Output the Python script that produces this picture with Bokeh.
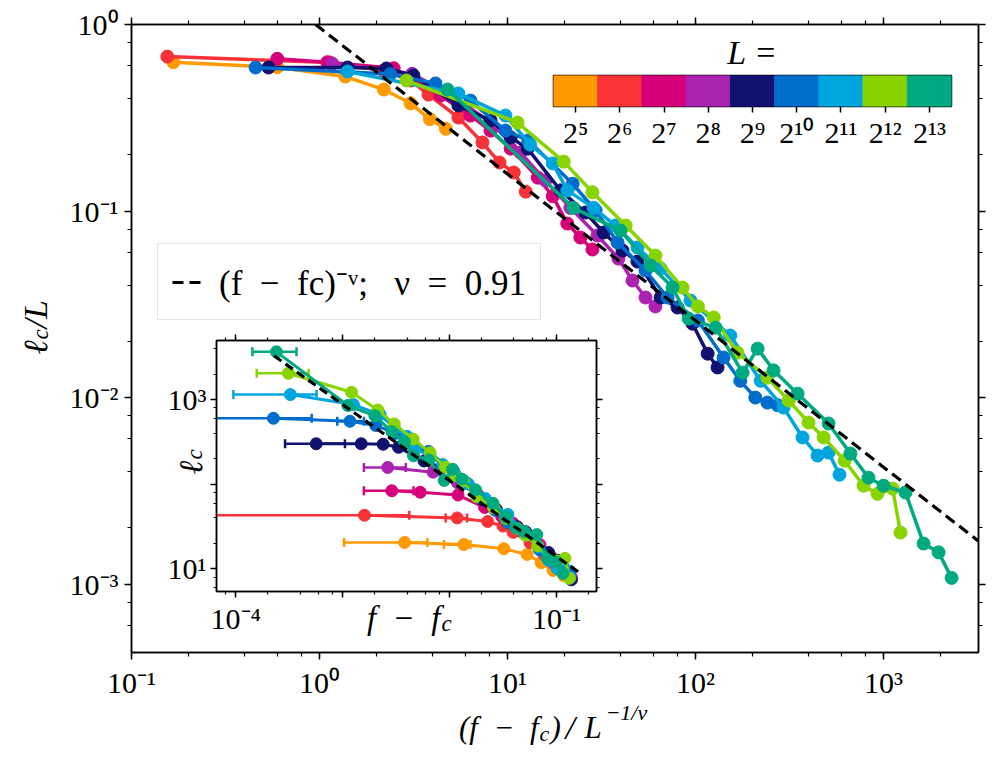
import math
from bokeh.plotting import figure
from bokeh.models import (Range1d, LogAxis, LogTicker, CustomJSTickFormatter, Legend, LegendItem,
                          FixedTicker)
from bokeh.core.properties import value
from bokeh.layouts import column
from bokeh.embed import file_html
from bokeh.resources import INLINE

SERIF = "Liberation Serif"
ENSP = "\u2002"
NBSP = "\u00a0"

# ---------------- data ----------------
L_exponents = [5, 6, 7, 8, 9, 10, 11, 12, 13]
L_labels = ["2⁵", "2⁶", "2⁷", "2⁸", "2⁹", "2¹⁰", "2¹¹", "2¹²", "2¹³"]
colors = ["#ff9a00", "#f83236", "#d6007a", "#ac22b0", "#111170",
          "#006ccc", "#00a5de", "#88d400", "#00aa80"]

# main panel: (f - f_c) / L^(-1/nu)  vs  l_c / L
x_main_L32 = [0.167, 0.596, 1.37, 2.20, 3.05, 3.86, 4.70]
y_main_L32 = [0.628, 0.590, 0.526, 0.448, 0.378, 0.311, 0.276]
x_main_L64 = [0.155, 1.14, 2.19, 3.05, 3.80, 5.48, 7.36, 9.06, 10.8, 12.5]
y_main_L64 = [0.673, 0.625, 0.567, 0.501, 0.421, 0.317, 0.233, 0.182, 0.161, 0.127]
x_main_L128 = [0.596, 1.10, 2.48, 4.40, 6.35, 8.12, 10.4, 14.5, 17.4, 20.8, 24.4, 28.3]
y_main_L128 = [0.655, 0.628, 0.583, 0.416, 0.325, 0.270, 0.216, 0.151, 0.120, 0.0857, 0.0721, 0.0622]
x_main_L256 = [1.17, 3.11, 5.28, 8.12, 11.7, 15.9, 21.6, 30.1, 38.9, 46.2, 54.2, 61.2]
y_main_L256 = [0.616, 0.544, 0.406, 0.298, 0.206, 0.146, 0.104, 0.0739, 0.0556, 0.0424, 0.0344, 0.0308]
x_main_L512 = [0.536, 1.41, 2.27, 3.16, 5.48, 8.12, 10.4, 12.8, 19.1, 26.0, 32.4, 40.9, 49.1, 65.2,
               80.2, 96.4, 116, 131]
y_main_L512 = [0.588, 0.588, 0.581, 0.533, 0.368, 0.306, 0.248, 0.216, 0.129, 0.0982, 0.0767, 0.0614,
               0.0536, 0.0344, 0.0304, 0.0249, 0.0172, 0.0145]
x_main_L1024 = [0.457, 2.38, 4.14, 6.35, 9.75, 12.9, 22.2, 29.4, 38.5, 54.2, 71.0, 103, 141, 173,
                208, 241, 273]
y_main_L1024 = [0.588, 0.542, 0.483, 0.391, 0.270, 0.239, 0.140, 0.101, 0.0678, 0.0480, 0.0344,
                0.0259, 0.0164, 0.0123, 0.0100, 0.0094, 0.0091]
x_main_L2048 = [1.41, 5.48, 9.75, 13.2, 17.4, 20.8, 28.7, 37.5, 49.1, 65.2, 94.0, 153, 222, 294,
                371, 446, 510, 583]
y_main_L2048 = [0.560, 0.427, 0.325, 0.227, 0.180, 0.129, 0.104, 0.0836, 0.0637, 0.0492, 0.0331,
                0.0215, 0.0123, 0.00884, 0.00611, 0.00489, 0.00507, 0.00386]
x_main_L4096 = [2.90, 11.3, 19.9, 28.3, 42.5, 61.2, 85.3, 103, 125, 167, 241, 313, 399, 480, 621,
                783, 929, 1117, 1231]
y_main_L4096 = [0.501, 0.298, 0.184, 0.126, 0.0836, 0.0577, 0.0389, 0.0308, 0.0269, 0.0174, 0.0128,
                0.00964, 0.00735, 0.00611, 0.00459, 0.00337, 0.00305, 0.00325, 0.00189]
x_main_L8192 = [4.80, 22.4, 39.9, 57.7, 75.5, 91.8, 128, 178, 214, 260, 349, 510, 667, 832, 1000,
                1309, 1633, 1963, 2301]
y_main_L8192 = [0.448, 0.104, 0.0786, 0.0510, 0.0389, 0.0265, 0.0237, 0.0136, 0.0183, 0.0140,
                0.0105, 0.00726, 0.00501, 0.00372, 0.00337, 0.00310, 0.00165, 0.00148, 0.00108]

fit_main_x = [0.953, 3200]
fit_main_y = [1.0, 0.0017]

# inset: f - f_c  vs  l_c
x_in_L32 = [0.0038, 0.0136, 0.0322, 0.0532, 0.0719, 0.0931, 0.117]
y_in_L32 = [20.5, 19.4, 17.3, 14.8, 11.8, 9.57, 8.36]
x_in_L64 = [0.0016, 0.0118, 0.0227, 0.0316, 0.0393, 0.0567, 0.0762, 0.0938, 0.112, 0.129]
y_in_L64 = [43, 40, 36.3, 32, 27, 20.3, 14.9, 11.6, 10.3, 8.1]
x_in_L128 = [0.00288, 0.00532, 0.0120, 0.0213, 0.0307, 0.0392, 0.0503, 0.0701, 0.0841, 0.1005,
             0.118, 0.137]
y_in_L128 = [83.8, 80.4, 74.6, 53.2, 41.6, 34.6, 27.6, 19.3, 15.4, 11.0, 9.23, 7.96]
x_in_L256 = [0.00264, 0.00702, 0.0119, 0.0183, 0.0264, 0.0359, 0.0488, 0.0679, 0.0878, 0.104,
             0.122, 0.138]
y_in_L256 = [158, 139, 104, 76.3, 52.7, 37.4, 26.6, 18.9, 14.2, 10.9, 8.81, 7.88]
x_in_L512 = [0.000565, 0.00149, 0.00239, 0.00333, 0.00577, 0.00856, 0.0110, 0.0135, 0.0201, 0.0274,
             0.0341, 0.0431, 0.0517, 0.0687, 0.0845, 0.1016, 0.122, 0.138]
y_in_L512 = [301, 301, 297, 273, 188, 157, 127, 111, 66.0, 50.3, 39.3, 31.4, 27.4, 17.6, 15.6, 12.7,
             8.81, 7.42]
x_in_L1024 = [0.000225, 0.00117, 0.00204, 0.00313, 0.00480, 0.00635, 0.0109, 0.0145, 0.0189,
              0.0267, 0.0349, 0.0507, 0.0694, 0.0851, 0.102, 0.119, 0.134]
y_in_L1024 = [602, 555, 495, 400, 276, 245, 143, 103, 69.4, 49.2, 35.2, 26.5, 16.8, 12.6, 10.2,
              9.63, 9.32]
x_in_L2048 = [0.000324, 0.00126, 0.00224, 0.00303, 0.00400, 0.00478, 0.00659, 0.00861, 0.0113,
              0.0150, 0.0216, 0.0351, 0.0510, 0.0675, 0.0852, 0.102, 0.117, 0.134]
y_in_L2048 = [1147, 874, 666, 465, 369, 264, 213, 171, 130, 101, 67.8, 44.0, 25.2, 18.1, 12.5,
              10.0, 10.4, 7.9]
x_in_L4096 = [0.000311, 0.00121, 0.00213, 0.00304, 0.00456, 0.00657, 0.00915, 0.0110, 0.0134,
              0.0179, 0.0259, 0.0336, 0.0428, 0.0515, 0.0666, 0.0840, 0.0997, 0.120, 0.132]
y_in_L4096 = [2052, 1221, 754, 516, 342, 236, 159, 126, 110, 71.3, 52.4, 39.5, 30.1, 25.0, 18.8,
              13.8, 12.5, 13.3, 7.74]
x_in_L8192 = [0.000240, 0.00112, 0.00200, 0.00289, 0.00378, 0.00460, 0.00641, 0.00891, 0.0107,
              0.0130, 0.0175, 0.0255, 0.0334, 0.0417, 0.0501, 0.0655, 0.0818, 0.0983, 0.115]
y_in_L8192 = [3670, 852, 644, 418, 319, 217, 194, 111, 150, 115, 86.0, 59.5, 41.0, 30.5, 27.6,
              25.4, 13.5, 12.1, 8.85]

# horizontal error bars of the inset (value, lower, upper)
err_y_L32, err_lo_L32, err_hi_L32 = [20.5, 19.4], [0.00103, 0.00885], [0.0062, 0.0157]
err_y_L64, err_lo_L64, err_hi_L64 = [43, 40], [4.0e-5, 0.0092], [0.0042, 0.0146]
err_y_L128, err_lo_L128, err_hi_L128 = [83.8], [0.00158], [0.0046]
err_y_L256, err_lo_L256, err_hi_L256 = [158], [0.00158], [0.0039]
err_y_L512, err_lo_L512, err_hi_L512 = [301], [0.000289], [0.00105]
err_y_L1024, err_lo_L1024, err_hi_L1024 = [602, 555], [4.0e-5, 0.00089], [0.000513, 0.00158]
err_y_L2048, err_lo_L2048, err_hi_L2048 = [1147], [9.5e-5], [0.00057]
err_y_L4096, err_lo_L4096, err_hi_L4096 = [2052], [0.000157], [0.00048]
err_y_L8192, err_lo_L8192, err_hi_L8192 = [3670], [0.000143], [0.00037]

fit_in_x = [2.28e-4, 0.162]
fit_in_y = [3300, 9.1]

main_series = [(x_main_L32, y_main_L32), (x_main_L64, y_main_L64), (x_main_L128, y_main_L128),
               (x_main_L256, y_main_L256), (x_main_L512, y_main_L512), (x_main_L1024, y_main_L1024),
               (x_main_L2048, y_main_L2048), (x_main_L4096, y_main_L4096), (x_main_L8192, y_main_L8192)]
inset_series = [(x_in_L32, y_in_L32), (x_in_L64, y_in_L64), (x_in_L128, y_in_L128),
                (x_in_L256, y_in_L256), (x_in_L512, y_in_L512), (x_in_L1024, y_in_L1024),
                (x_in_L2048, y_in_L2048), (x_in_L4096, y_in_L4096), (x_in_L8192, y_in_L8192)]
inset_errs = [(err_y_L32, err_lo_L32, err_hi_L32), (err_y_L64, err_lo_L64, err_hi_L64),
              (err_y_L128, err_lo_L128, err_hi_L128), (err_y_L256, err_lo_L256, err_hi_L256),
              (err_y_L512, err_lo_L512, err_hi_L512), (err_y_L1024, err_lo_L1024, err_hi_L1024),
              (err_y_L2048, err_lo_L2048, err_hi_L2048), (err_y_L4096, err_lo_L4096, err_hi_L4096),
              (err_y_L8192, err_lo_L8192, err_hi_L8192)]

# ---------------- helpers ----------------
SUP_CODE = """
const e = Math.round(Math.log10(tick));
if (show.length > 0 && !show.includes(e)) { return ""; }
const sup = {"-": "\u207b", "0": "\u2070", "1": "\u00b9", "2": "\u00b2", "3": "\u00b3",
             "4": "\u2074", "5": "\u2075", "6": "\u2076", "7": "\u2077", "8": "\u2078", "9": "\u2079"};
return "10" + String(e).split("").map(c => sup[c]).join("");
"""


def log_formatter(show=None):
    return CustomJSTickFormatter(args=dict(show=show or []), code=SUP_CODE)


def empty_formatter():
    return CustomJSTickFormatter(code="return '';")


def style_axis(ax, font_size, tick_out=7, minor_out=4):
    ax.axis_line_color = "black"
    ax.axis_line_width = 1.5
    ax.major_tick_line_color = "black"
    ax.major_tick_line_width = 1.5
    ax.minor_tick_line_color = "black"
    ax.minor_tick_line_width = 1.2
    ax.major_tick_out = tick_out
    ax.major_tick_in = 0
    ax.minor_tick_out = minor_out
    ax.minor_tick_in = 0
    ax.major_label_text_font = SERIF
    ax.major_label_text_font_size = font_size
    ax.major_label_text_color = "black"


def add_frame_axes(fig, font_size, tick_out, minor_out):
    top = LogAxis(ticker=LogTicker(mantissas=[1]), formatter=empty_formatter(), major_label_standoff=0)
    right = LogAxis(ticker=LogTicker(mantissas=[1]), formatter=empty_formatter(), major_label_standoff=0)
    for ax in (top, right):
        style_axis(ax, font_size, tick_out, minor_out)
    fig.add_layout(top, "above")
    fig.add_layout(right, "right")


# Bokeh aligns the left/right borders of the plots in a column, so every
# figure gets the same left (131) and right (16) border.
BORDER_L, BORDER_R = 131, 16
CANVAS_H = 756
INSET_TOP, INSET_H = 330, 317
CB_TOP, CB_H = 19, 143
TEXT_TOP = -10
UP = math.pi / 2

# ---------------- main figure ----------------
p = figure(frame_width=847, frame_height=628, x_axis_type="log", y_axis_type="log",
           x_range=Range1d(0.1, 3200), y_range=Range1d(4.3e-4, 1.0),
           output_backend="svg", toolbar_location=None,
           min_border_left=BORDER_L, min_border_right=BORDER_R, min_border_top=24, min_border_bottom=104)
p.grid.visible = False
p.outline_line_color = "black"
p.outline_line_width = 1.5
p.background_fill_color = "white"
p.border_fill_color = "white"

for (xs, ys), c in zip(main_series, colors):
    p.line(xs, ys, line_color=c, line_width=3.5)
    p.scatter(xs, ys, size=13, fill_color=c, line_color=c)

fit_r = p.line(fit_main_x, fit_main_y, line_color="black", line_width=3.2, line_dash="11 6")

p.xaxis.ticker = LogTicker(mantissas=[1])
p.yaxis.ticker = LogTicker(mantissas=[1])
p.xaxis.formatter = log_formatter()
p.yaxis.formatter = log_formatter()
for ax in (p.xaxis[0], p.yaxis[0]):
    style_axis(ax, "30px")
    ax.major_label_standoff = 6
add_frame_axes(p, "30px", 7, 4)

legend_label = ("(f" + ENSP + "−" + ENSP + "fc)⁻ᵛ;" + ENSP + NBSP + "ν" + ENSP + "=" + ENSP + "0.91")
legend = Legend(items=[LegendItem(label=legend_label, renderers=[fit_r])],
                location=(26, 332), orientation="vertical")
legend.label_text_font = SERIF
legend.label_text_font_size = "35px"
legend.label_text_color = "black"
legend.border_line_color = "#cccccc"
legend.border_line_width = 1.3
legend.background_fill_color = "white"
legend.background_fill_alpha = 0.9
legend.padding = 14
legend.margin = 0
legend.glyph_width = 32
legend.glyph_height = 38
legend.label_height = 38
legend.label_standoff = 15
p.add_layout(legend, "center")

# ---------------- inset figure ----------------
ins = figure(frame_width=380, frame_height=251, x_axis_type="log", y_axis_type="log",
             x_range=Range1d(6.6e-5, 0.237), y_range=Range1d(5.4, 5000),
             output_backend="svg", toolbar_location=None,
             min_border_left=BORDER_L, min_border_right=BORDER_R, min_border_top=10, min_border_bottom=56)
ins.grid.visible = False
ins.outline_line_color = "black"
ins.outline_line_width = 1.5
ins.background_fill_color = "white"
ins.border_fill_color = None

for (xs, ys), (ey, elo, ehi), c in zip(inset_series, inset_errs, colors):
    ins.segment(x0=elo, y0=ey, x1=ehi, y1=ey, line_color=c, line_width=2.5)
    ins.scatter(elo + ehi, ey + ey, marker="dash", angle=math.pi / 2, size=9,
                line_color=c, line_width=2.5)
    ins.line(xs, ys, line_color=c, line_width=3)
    ins.scatter(xs, ys, size=12, fill_color=c, line_color=c)

ins.line(fit_in_x, fit_in_y, line_color="black", line_width=3.2, line_dash="9 5")

ins.xaxis.ticker = LogTicker(mantissas=[1])
ins.yaxis.ticker = LogTicker(mantissas=[1])
ins.xaxis.formatter = log_formatter([-4, -1])
ins.yaxis.formatter = log_formatter([1, 3])
for ax in (ins.xaxis[0], ins.yaxis[0]):
    style_axis(ax, "30px", 6, 3)
    ax.major_label_standoff = 4
add_frame_axes(ins, "30px", 6, 3)

# ---------------- colour bar (as a small figure) ----------------
cb = figure(frame_width=398, frame_height=31, x_range=Range1d(4.5, 13.5), y_range=Range1d(0, 1),
            output_backend="svg", toolbar_location=None, title="L =",
            min_border_left=BORDER_L, min_border_right=BORDER_R, min_border_top=56, min_border_bottom=56)
cb.vbar(x=L_exponents, top=1, width=1, fill_color=colors, line_color=colors)
cb.grid.visible = False
cb.yaxis.visible = False
cb.outline_line_color = "black"
cb.outline_line_width = 1.5
cb.background_fill_color = None
cb.border_fill_color = None
cb.xaxis.ticker = FixedTicker(ticks=L_exponents)
cb.xaxis.major_label_overrides = {e: lab for e, lab in zip(L_exponents, L_labels)}
style_axis(cb.xaxis[0], "30px", 6, 0)
cb.xaxis.axis_line_color = None
cb.xaxis.minor_tick_line_color = None
cb.xaxis.major_label_standoff = 3
cb.title.align = "center"
cb.title.text_font = SERIF
cb.title.text_font_style = "italic"
cb.title.text_font_size = "34px"
cb.title.text_color = "black"

# ---------------- transparent text layer for the axis titles ----------------
# its frame covers the whole page (x: px from the left, y: px from the bottom)
tl = figure(frame_width=847, frame_height=CANVAS_H, x_range=Range1d(0, 847), y_range=Range1d(0, CANVAS_H),
            output_backend="svg", toolbar_location=None, title=None,
            x_axis_location=None, y_axis_location=None,
            min_border_left=BORDER_L, min_border_right=BORDER_R, min_border_top=0, min_border_bottom=0)
tl.grid.visible = False
tl.outline_line_color = None
tl.background_fill_color = None
tl.border_fill_color = None

# (text, x, y, font px, angle, align): (f − f_c)/L^(−1/ν), ℓ_c/L, inset f − f_c and ℓ_c
title_parts = [
    ("(f" + ENSP + "−" + ENSP + "f", 538, 19, 31, 0, "right"),
    ("c", 539, 13, 22, 0, "left"),
    (")", 550, 19, 31, 0, "left"),
    ("/", 565, 19, 34, 0, "left"),
    ("L", 584, 19, 31, 0, "left"),
    ("−1/ν", 605, 34, 22, 0, "left"),
    ("ℓ", 35, 392, 34, UP, "left"),
    ("c", 40, 407, 23, UP, "left"),
    ("/L", 35, 418, 34, UP, "left"),
    ("f" + ENSP + "−" + ENSP + "f", 440, 129, 33, 0, "right"),
    ("c", 441, 123, 23, 0, "left"),
    ("ℓ", 190, 272, 33, UP, "left"),
    ("c", 194, 287, 23, UP, "left"),
]
for text, x, y, size, angle, align in title_parts:
    tl.text(x=[x], y=[y], text=[text], angle=angle, text_align=align, text_baseline="alphabetic",
            text_font=value(SERIF), text_font_style="italic", text_font_size=value(f"{size}px"),
            text_color="black")

# overlay inset, colour bar and text layer on the main figure (main canvas: 994 x 756)
ins.margin = (INSET_TOP - CANVAS_H, 0, 0, 216 - BORDER_L)
cb.margin = (CB_TOP - (INSET_TOP + INSET_H), 0, 0, 553 - BORDER_L)
tl.margin = (TEXT_TOP - (CB_TOP + CB_H), 0, 0, -BORDER_L)

layout = column(p, ins, cb, tl, spacing=0)
open("out.html", "w").write(file_html(layout, INLINE))
